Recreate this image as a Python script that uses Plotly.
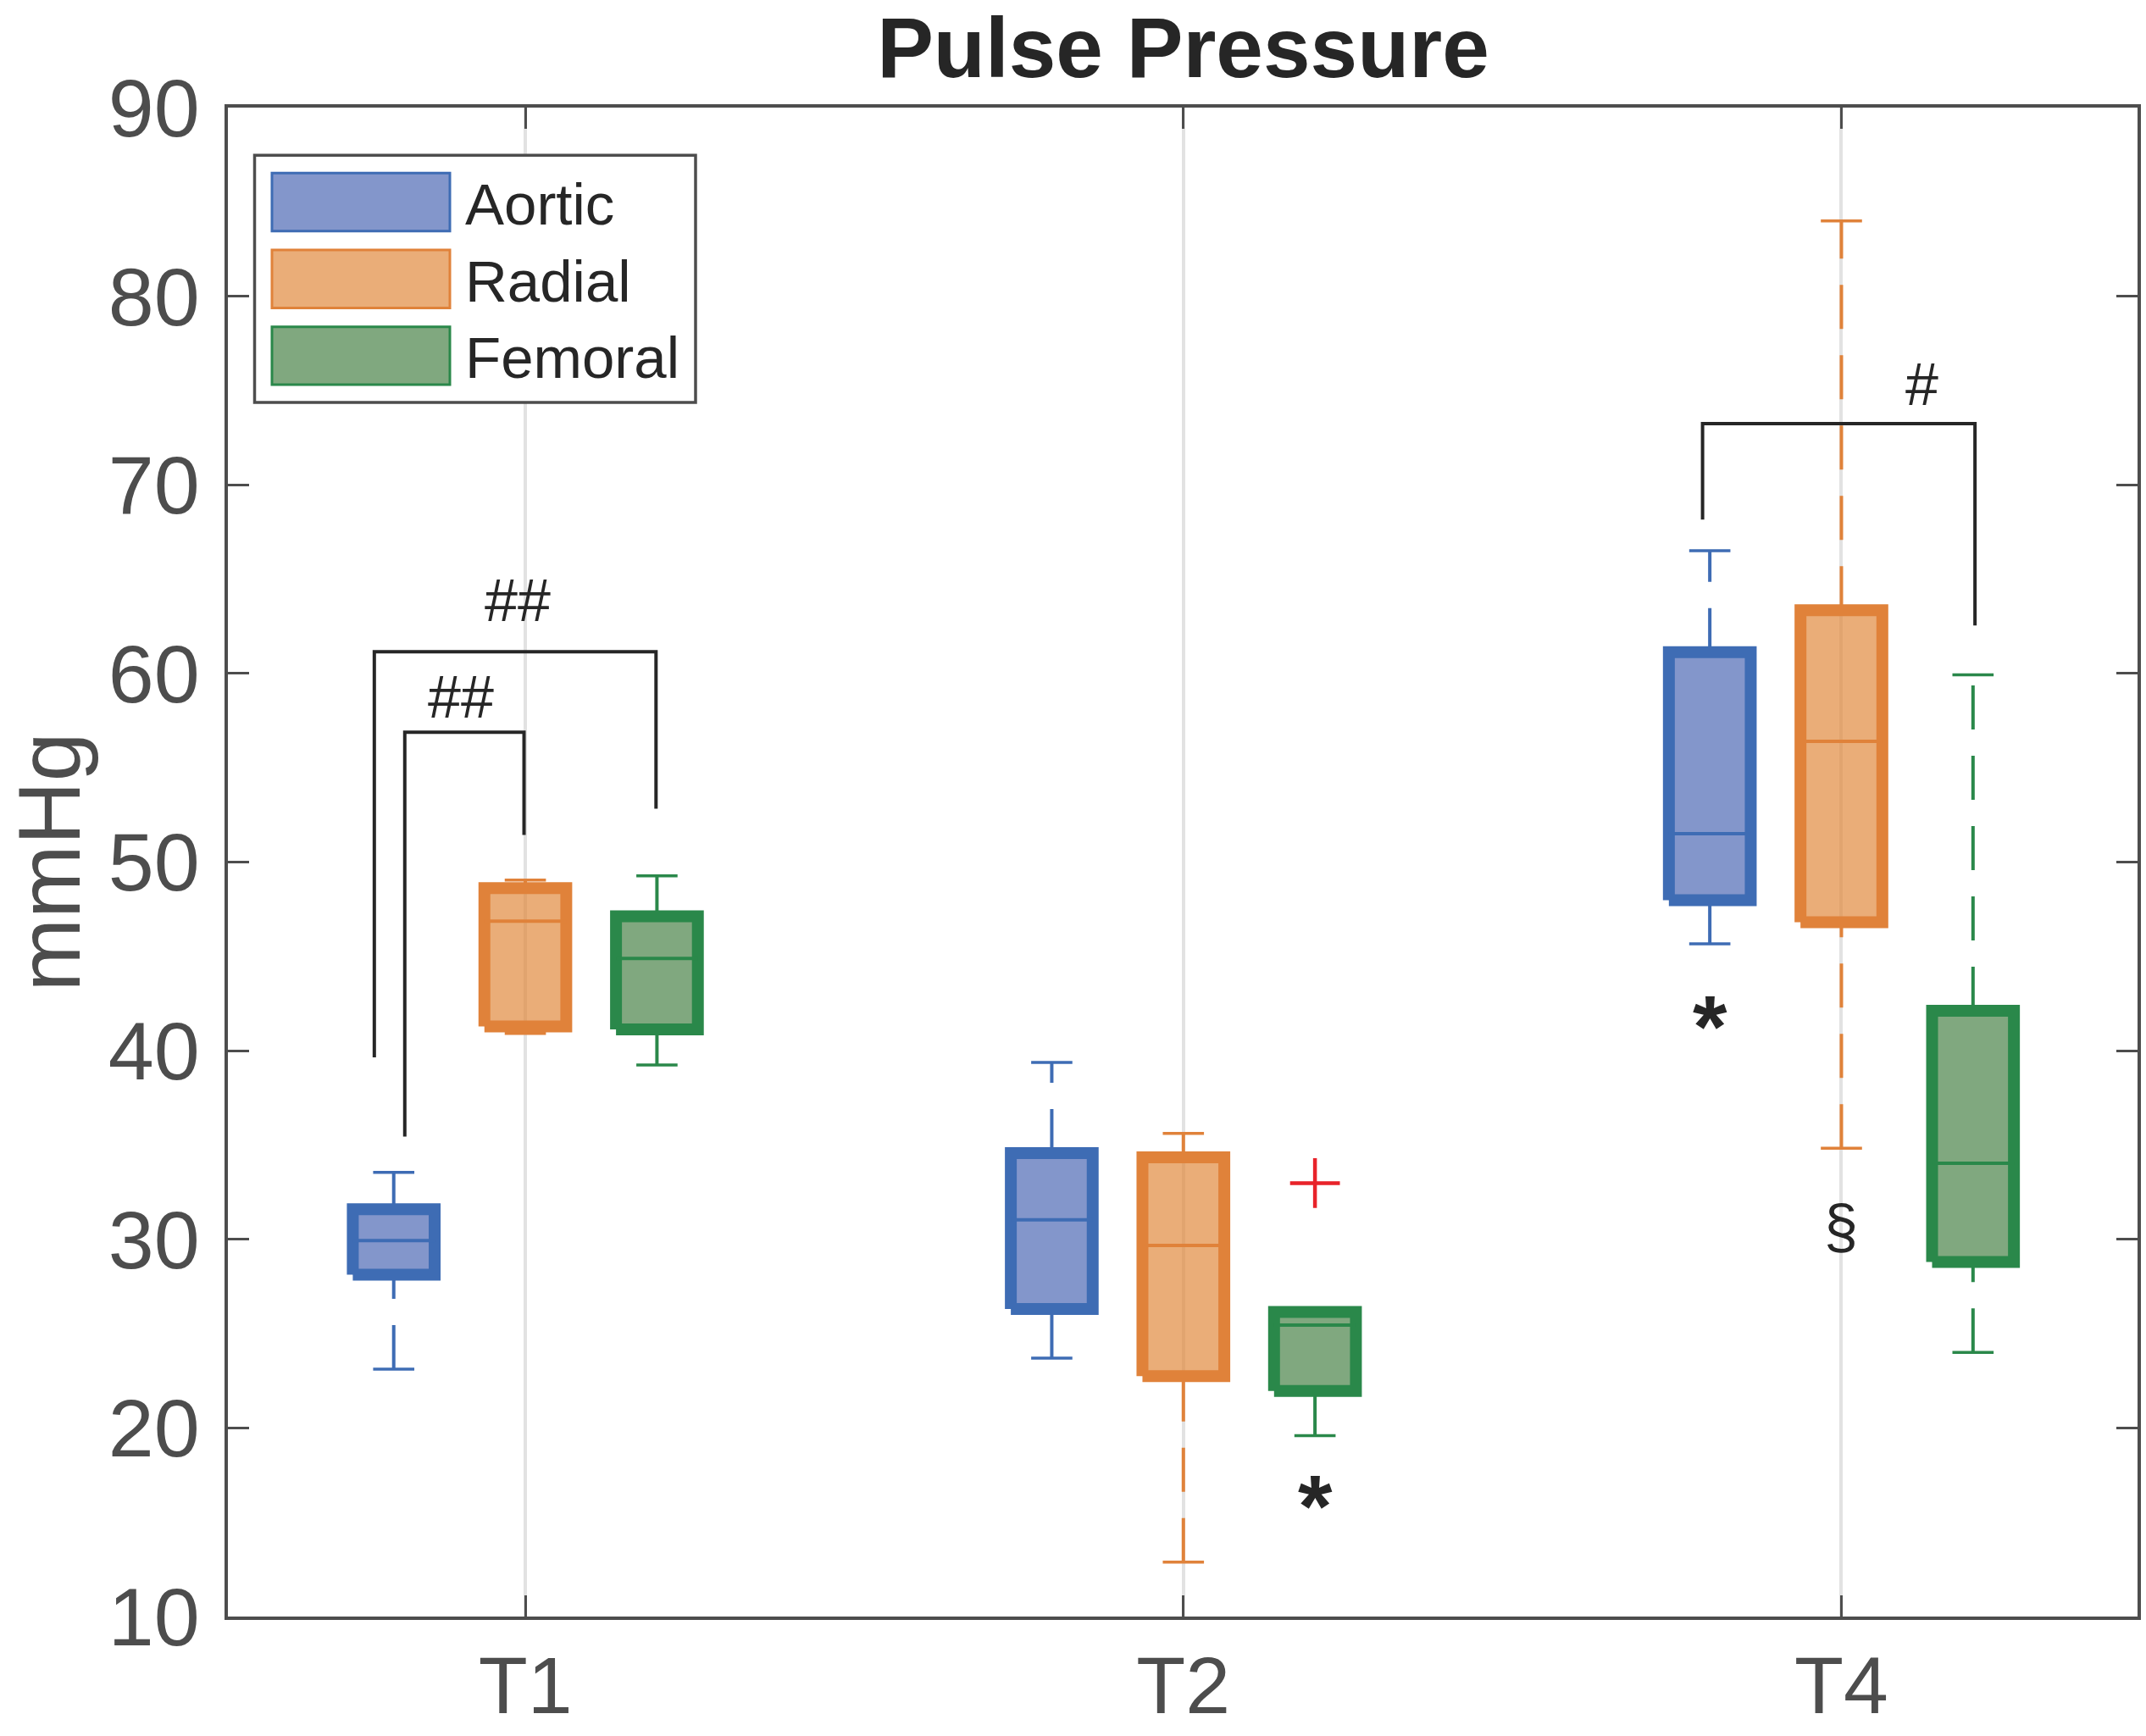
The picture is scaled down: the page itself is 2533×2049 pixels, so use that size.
import plotly.graph_objects as go

# ---------------- data ----------------
categories = ["T1", "T2", "T4"]
series_names = ["Aortic", "Radial", "Femoral"]

aortic_lower = [23.12, 23.70, 45.67]
aortic_q1 = [28.13, 26.30, 47.98]
aortic_median = [29.93, 31.03, 51.51]
aortic_q3 = [31.60, 34.57, 61.13]
aortic_upper = [33.55, 39.38, 66.51]

radial_lower = [40.91, 12.89, 34.83]
radial_q1 = [41.29, 22.75, 46.81]
radial_median = [46.87, 29.67, 56.40]
radial_q3 = [48.62, 34.35, 63.35]
radial_upper = [49.05, 35.62, 83.99]

femoral_lower = [39.24, 19.59, 24.00]
femoral_q1 = [41.13, 21.96, 28.80]
femoral_median = [44.89, 25.45, 34.03]
femoral_q3 = [47.12, 26.15, 42.12]
femoral_upper = [49.27, 26.15, 59.93]

outlier_series = ["Femoral"]
outlier_category = ["T2"]
outlier_value = [32.98]

# significance brackets (x in axis units, y in mmHg)
bracket_x_left = [0.7705, 0.8168, 2.789]
bracket_y_left = [39.65, 35.45, 68.16]
bracket_x_right = [1.1986, 0.998, 3.203]
bracket_y_right = [52.83, 51.44, 62.54]
bracket_y_top = [61.15, 56.88, 73.24]
bracket_labels = ["##", "##", "#"]
bracket_label_x = [0.988, 0.902, 3.122]
bracket_label_y = [63.87, 58.72, 75.30]

# other marks
mark_text = ["*", "*", "\u00a7"]
mark_x = [2.80, 2.20, 3.00]
mark_y = [42.0, 16.58, 30.75]

y_ticks = [10, 20, 30, 40, 50, 60, 70, 80, 90]

# ---------------- styling ----------------
W, H = 2533, 2049
ML, MR, MT, MB = 269, 10, 127, 141
FONT = "Liberation Sans, Arial, Helvetica, sans-serif"
AX = "#4d4d4d"

offsets = {"Aortic": -0.2, "Radial": 0.0, "Femoral": 0.2}
dark = {"Aortic": "rgb(62,108,180)", "Radial": "rgb(224,130,58)", "Femoral": "rgb(42,136,74)"}
fill = {"Aortic": "rgba(79,106,181,0.7)", "Radial": "rgba(225,138,62,0.7)",
        "Femoral": "rgba(74,131,72,0.7)"}
BOX_HW = 0.0622
CAP_HW = 0.0313

stats = {
    "Aortic": (aortic_lower, aortic_q1, aortic_median, aortic_q3, aortic_upper),
    "Radial": (radial_lower, radial_q1, radial_median, radial_q3, radial_upper),
    "Femoral": (femoral_lower, femoral_q1, femoral_median, femoral_q3, femoral_upper),
}

fig = go.Figure()

for name in series_names:
    lo, q1, med, q3, up = stats[name]
    pos = [i + 1 + offsets[name] for i in range(len(categories))]
    col = dark[name]
    # whiskers: upper drawn from q3 to fence, lower from fence to q1 (dashed)
    wx, wy = [], []
    for p, a, b, c, d in zip(pos, lo, q1, q3, up):
        wx += [p, p, None, p, p, None]
        wy += [c, d, None, a, b, None]
    fig.add_trace(go.Scatter(x=wx, y=wy, mode="lines", showlegend=False, hoverinfo="skip",
                             line=dict(color=col, width=4, dash="52px,31px")))
    # caps
    cx, cy = [], []
    for p, a, d in zip(pos, lo, up):
        cx += [p - CAP_HW, p + CAP_HW, None, p - CAP_HW, p + CAP_HW, None]
        cy += [d, d, None, a, a, None]
    fig.add_trace(go.Scatter(x=cx, y=cy, mode="lines", showlegend=False, hoverinfo="skip",
                             line=dict(color=col, width=3.5)))
    # boxes
    bx, by = [], []
    for p, b, c in zip(pos, q1, q3):
        bx += [p - BOX_HW, p + BOX_HW, p + BOX_HW, p - BOX_HW, p - BOX_HW, None]
        by += [b, b, c, c, b, None]
    fig.add_trace(go.Scatter(x=bx, y=by, mode="lines", fill="toself", fillcolor=fill[name],
                             name=name, showlegend=False, hoverinfo="skip",
                             line=dict(color=col, width=14)))
    # medians
    mx, my = [], []
    for p, m in zip(pos, med):
        mx += [p - BOX_HW, p + BOX_HW, None]
        my += [m, m, None]
    fig.add_trace(go.Scatter(x=mx, y=my, mode="lines", showlegend=False, hoverinfo="skip",
                             line=dict(color=col, width=4)))

# outliers
ox = [categories.index(c) + 1 + offsets[s] for s, c in zip(outlier_series, outlier_category)]
fig.add_trace(go.Scatter(x=ox, y=outlier_value, mode="markers", showlegend=False,
                         marker=dict(symbol="cross-thin", size=42,
                                     line=dict(color="rgb(232,35,42)", width=4.5))))

# brackets
kx, ky = [], []
for xl, yl, xr, yr, yt in zip(bracket_x_left, bracket_y_left, bracket_x_right,
                              bracket_y_right, bracket_y_top):
    kx += [xl, xl, xr, xr, None]
    ky += [yl, yt, yt, yr, None]
fig.add_trace(go.Scatter(x=kx, y=ky, mode="lines", showlegend=False, hoverinfo="skip",
                         line=dict(color="#262626", width=4)))

annotations = []
for t, x, y in zip(bracket_labels, bracket_label_x, bracket_label_y):
    annotations.append(dict(x=x, y=y, xref="x", yref="y", text=t, showarrow=False,
                            font=dict(family=FONT, size=70, color="#262626")))
for t, x, y in zip(mark_text, mark_x, mark_y):
    if t == "*":
        annotations.append(dict(x=x, y=y, xref="x", yref="y", text="<b>*</b>", showarrow=False,
                                yshift=-16, font=dict(family=FONT, size=104, color="#262626")))
    else:
        annotations.append(dict(x=x, y=y, xref="x", yref="y", text=t, showarrow=False,
                                yshift=-1, font=dict(family=FONT, size=72, color="#262626")))

# manual legend (pixel layout converted to paper coordinates)
pw, ph = W - ML - MR, H - MT - MB


def px(X):
    return (X - ML) / pw


def py(Y):
    return (H - MB - Y) / ph


shapes = [dict(type="rect", xref="paper", yref="paper", x0=px(300.5), x1=px(821),
               y0=py(475), y1=py(183.3), line=dict(color=AX, width=3.5), fillcolor="white",
               layer="above")]
for k, name in enumerate(series_names):
    y0 = 204.3 + k * 90.7
    y1 = y0 + 68.4
    shapes.append(dict(type="rect", xref="paper", yref="paper", x0=px(321), x1=px(531),
                       y0=py(y1), y1=py(y0), line=dict(color=dark[name], width=3),
                       fillcolor=fill[name], layer="above"))
    annotations.append(dict(x=px(547), y=py((y0 + y1) / 2 + 3), xref="paper", yref="paper",
                            text=name, showarrow=False, xanchor="left", yanchor="middle",
                            font=dict(family=FONT, size=69, color="#262626")))

fig.update_layout(
    width=W, height=H,
    margin=dict(l=ML, r=MR, t=MT, b=MB, pad=0, autoexpand=False),
    paper_bgcolor="white", plot_bgcolor="white",
    title=dict(text="<b>Pulse Pressure</b>", x=px(1396.5), xref="paper", xanchor="center",
               y=1 - 56 / H, yref="container", yanchor="middle",
               font=dict(family=FONT, size=100, color="#262626")),
    xaxis=dict(range=[0.548, 3.45], tickmode="array", tickvals=[1, 2, 3], ticktext=categories,
               ticks="inside", ticklen=25, tickwidth=3, tickcolor=AX,
               showline=True, linewidth=4, linecolor=AX, mirror="ticks", automargin=False,
               showgrid=True, gridcolor="#e2e2e2", gridwidth=4, zeroline=False,
               tickfont=dict(family=FONT, size=95, color=AX), ticklabelstandoff=-4),
    yaxis=dict(range=[10, 90], tickmode="array", tickvals=y_ticks,
               ticks="inside", ticklen=25, tickwidth=3, tickcolor=AX,
               showline=True, linewidth=4, linecolor=AX, mirror="ticks", automargin=False,
               showgrid=False, zeroline=False,
               tickfont=dict(family=FONT, size=97, color=AX), ticklabelstandoff=10,
               title=dict(text="mmHg", standoff=27,
                          font=dict(family=FONT, size=104, color=AX))),
    shapes=shapes,
    annotations=annotations,
    showlegend=False,
)

fig.write_html("out.html", config={"displayModeBar": False},
               post_script="document.body.style.margin='0';document.body.style.overflow='hidden';")
